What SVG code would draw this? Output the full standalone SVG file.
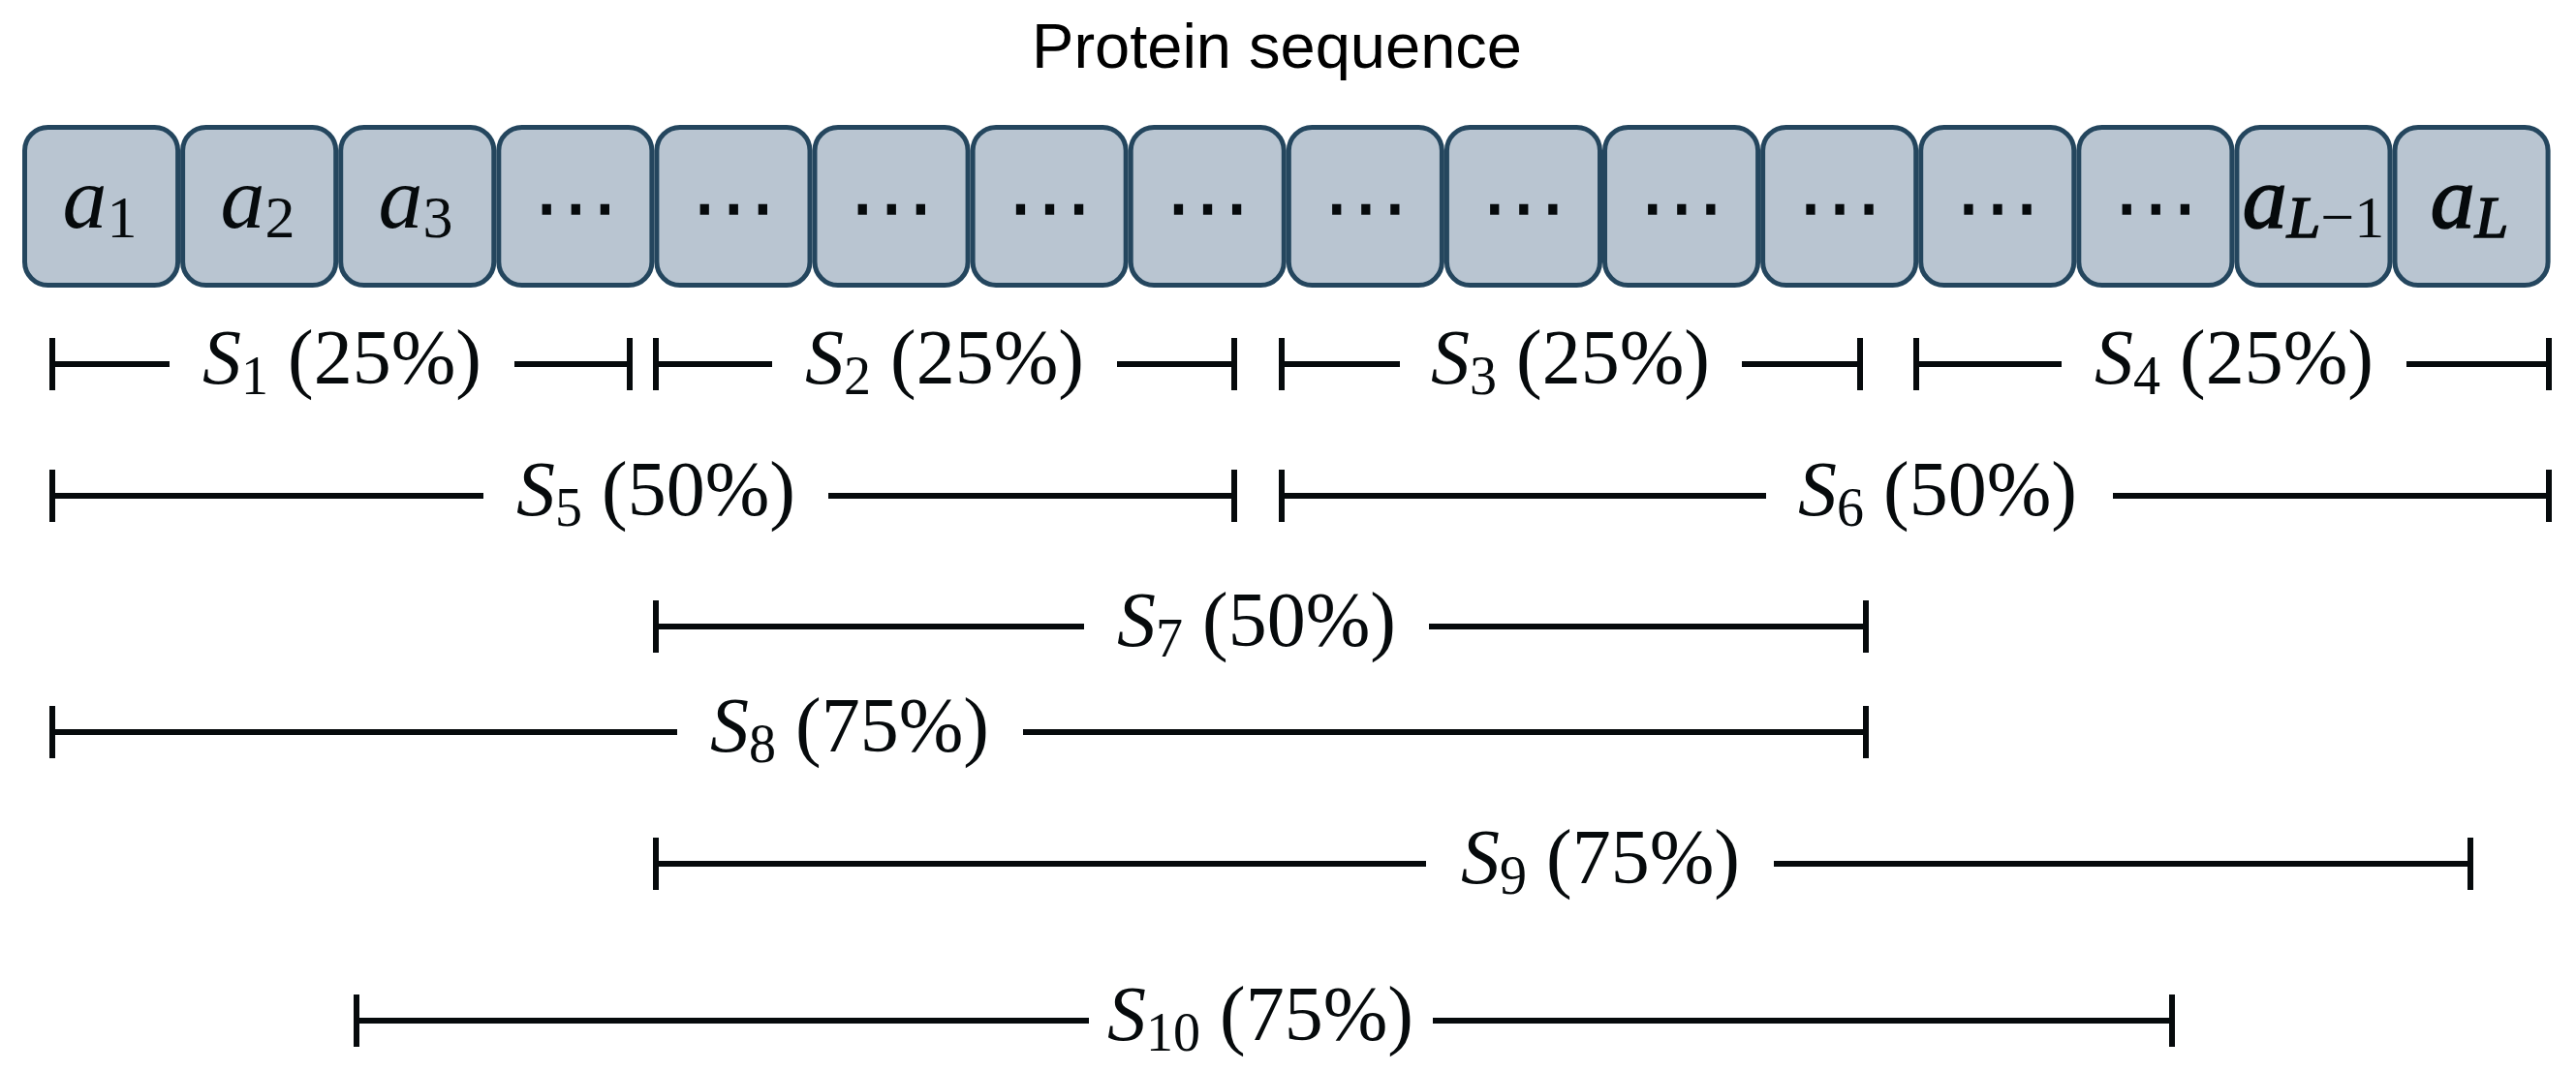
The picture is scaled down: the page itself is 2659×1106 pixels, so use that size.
<svg xmlns="http://www.w3.org/2000/svg" width="2659" height="1106" viewBox="0 0 2659 1106">
<style>
.box{fill:#b9c5d1;stroke:#24465e;stroke-width:5}
.lbl{font-family:"Liberation Serif","Times New Roman",serif;font-size:92px;fill:#060a0c}
.it{font-style:italic}
.hv{stroke:#060a0c;stroke-width:1.6}
.sub{font-size:62px}
.dots{font-family:"DejaVu Sans",sans-serif;font-size:90px;fill:#060a0c}
.seg{stroke:#060a0c;stroke-width:6;fill:none}
.slbl{font-family:"Liberation Serif","Times New Roman",serif;font-size:80px;fill:#060a0c}
.ssub{font-size:56px}
.title{font-family:"Liberation Sans",Arial,sans-serif;font-size:65px;fill:#000}
</style>
<rect width="2659" height="1106" fill="#fff"/>
<text class="title" x="1318" y="70" text-anchor="middle">Protein sequence</text>
<g id="sequence">
<g id="res1"><rect class="box" x="25.5" y="131.5" width="158.1" height="163" rx="24"/><text class="lbl" x="103" y="235" text-anchor="middle"><tspan class="it">a</tspan><tspan class="sub" dy="10">1</tspan></text></g>
<g id="res2"><rect class="box" x="188.6" y="131.5" width="158.1" height="163" rx="24"/><text class="lbl" x="266" y="235" text-anchor="middle"><tspan class="it">a</tspan><tspan class="sub" dy="10">2</tspan></text></g>
<g id="res3"><rect class="box" x="351.7" y="131.5" width="158.1" height="163" rx="24"/><text class="lbl" x="429" y="235" text-anchor="middle"><tspan class="it">a</tspan><tspan class="sub" dy="10">3</tspan></text></g>
<g id="res4"><rect class="box" x="514.8" y="131.5" width="158.1" height="163" rx="24"/><text class="dots" x="593.9" y="244" text-anchor="middle">⋯</text></g>
<g id="res5"><rect class="box" x="677.9" y="131.5" width="158.1" height="163" rx="24"/><text class="dots" x="757.0" y="244" text-anchor="middle">⋯</text></g>
<g id="res6"><rect class="box" x="841.0" y="131.5" width="158.1" height="163" rx="24"/><text class="dots" x="920.1" y="244" text-anchor="middle">⋯</text></g>
<g id="res7"><rect class="box" x="1004.1" y="131.5" width="158.1" height="163" rx="24"/><text class="dots" x="1083.2" y="244" text-anchor="middle">⋯</text></g>
<g id="res8"><rect class="box" x="1167.2" y="131.5" width="158.1" height="163" rx="24"/><text class="dots" x="1246.3" y="244" text-anchor="middle">⋯</text></g>
<g id="res9"><rect class="box" x="1330.3" y="131.5" width="158.1" height="163" rx="24"/><text class="dots" x="1409.4" y="244" text-anchor="middle">⋯</text></g>
<g id="res10"><rect class="box" x="1493.4" y="131.5" width="158.1" height="163" rx="24"/><text class="dots" x="1572.5" y="244" text-anchor="middle">⋯</text></g>
<g id="res11"><rect class="box" x="1656.5" y="131.5" width="158.1" height="163" rx="24"/><text class="dots" x="1735.6" y="244" text-anchor="middle">⋯</text></g>
<g id="res12"><rect class="box" x="1819.6" y="131.5" width="158.1" height="163" rx="24"/><text class="dots" x="1898.7" y="244" text-anchor="middle">⋯</text></g>
<g id="res13"><rect class="box" x="1982.7" y="131.5" width="158.1" height="163" rx="24"/><text class="dots" x="2061.8" y="244" text-anchor="middle">⋯</text></g>
<g id="res14"><rect class="box" x="2145.8" y="131.5" width="158.1" height="163" rx="24"/><text class="dots" x="2224.9" y="244" text-anchor="middle">⋯</text></g>
<g id="res15"><rect class="box" x="2308.9" y="131.5" width="158.1" height="163" rx="24"/><text class="lbl" x="2388.0" y="235" text-anchor="middle"><tspan class="it hv">a</tspan><tspan class="sub" dy="10"><tspan class="it hv">L</tspan>−1</tspan></text></g>
<g id="res16"><rect class="box" x="2472.0" y="131.5" width="158.1" height="163" rx="24"/><text class="lbl" x="2549" y="235" text-anchor="middle"><tspan class="it hv">a</tspan><tspan class="sub it hv" dy="10">L</tspan></text></g>
</g>
<g id="connectors">
<path class="seg" d="M54 349V403M54 376H175M531 376H650M650 349V403"/>
<path class="seg" d="M677 349V403M677 376H797M1153 376H1274M1274 349V403"/>
<path class="seg" d="M1323 349V403M1323 376H1445M1798 376H1920M1920 349V403"/>
<path class="seg" d="M1978 349V403M1978 376H2128M2484 376H2631M2631 349V403"/>
<path class="seg" d="M54 485V539M54 512H499M855 512H1274M1274 485V539"/>
<path class="seg" d="M1323 485V539M1323 512H1823M2181 512H2631M2631 485V539"/>
<path class="seg" d="M677 620V674M677 647H1119M1475 647H1926M1926 620V674"/>
<path class="seg" d="M54 729V783M54 756H699M1056 756H1926M1926 729V783"/>
<path class="seg" d="M677 865V919M677 892H1472M1831 892H2550M2550 865V919"/>
<path class="seg" d="M368 1027V1081M368 1054H1124M1479 1054H2242M2242 1027V1081"/>
</g>
<g id="labels">
<g id="S1"><text class="slbl" x="353" y="396" text-anchor="middle"><tspan class="it">S</tspan><tspan class="ssub" dy="11">1</tspan><tspan dy="-11"> (25%)</tspan></text></g>
<g id="S2"><text class="slbl" x="975" y="396" text-anchor="middle"><tspan class="it">S</tspan><tspan class="ssub" dy="11">2</tspan><tspan dy="-11"> (25%)</tspan></text></g>
<g id="S3"><text class="slbl" x="1621" y="396" text-anchor="middle"><tspan class="it">S</tspan><tspan class="ssub" dy="11">3</tspan><tspan dy="-11"> (25%)</tspan></text></g>
<g id="S4"><text class="slbl" x="2306" y="396" text-anchor="middle"><tspan class="it">S</tspan><tspan class="ssub" dy="11">4</tspan><tspan dy="-11"> (25%)</tspan></text></g>
<g id="S5"><text class="slbl" x="677" y="532" text-anchor="middle"><tspan class="it">S</tspan><tspan class="ssub" dy="11">5</tspan><tspan dy="-11"> (50%)</tspan></text></g>
<g id="S6"><text class="slbl" x="2000" y="532" text-anchor="middle"><tspan class="it">S</tspan><tspan class="ssub" dy="11">6</tspan><tspan dy="-11"> (50%)</tspan></text></g>
<g id="S7"><text class="slbl" x="1297" y="667" text-anchor="middle"><tspan class="it">S</tspan><tspan class="ssub" dy="11">7</tspan><tspan dy="-11"> (50%)</tspan></text></g>
<g id="S8"><text class="slbl" x="877" y="776" text-anchor="middle"><tspan class="it">S</tspan><tspan class="ssub" dy="11">8</tspan><tspan dy="-11"> (75%)</tspan></text></g>
<g id="S9"><text class="slbl" x="1652" y="912" text-anchor="middle"><tspan class="it">S</tspan><tspan class="ssub" dy="11">9</tspan><tspan dy="-11"> (75%)</tspan></text></g>
<g id="S10"><text class="slbl" x="1301" y="1074" text-anchor="middle"><tspan class="it">S</tspan><tspan class="ssub" dy="11">10</tspan><tspan dy="-11"> (75%)</tspan></text></g>
</g>
</svg>
